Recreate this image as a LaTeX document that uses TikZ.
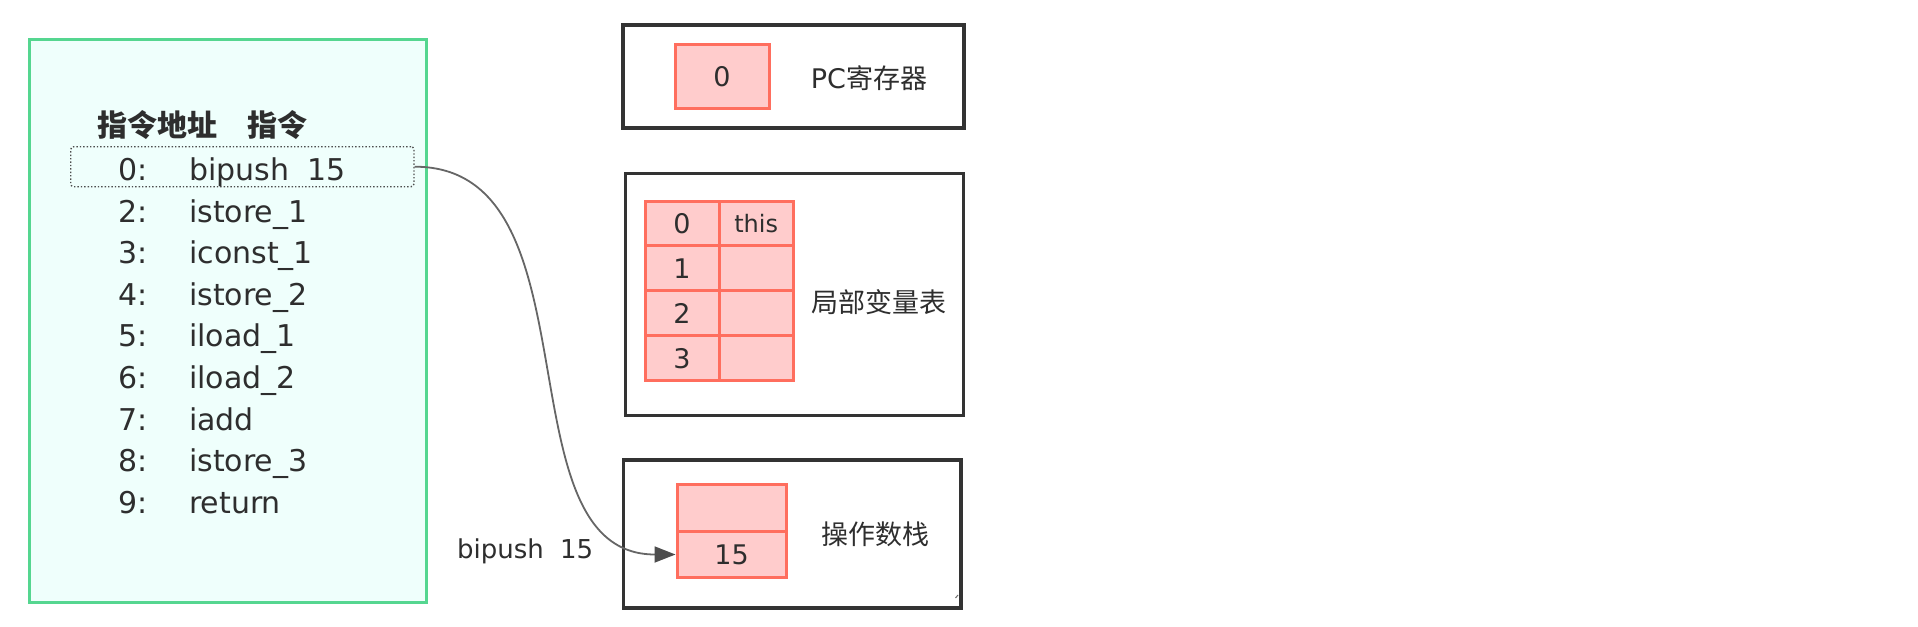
\documentclass[tikz,border=0pt]{standalone}
\usepackage{fontspec}
\setmainfont{DejaVu Sans}
\newfontfamily\cjk{Noto Sans CJK SC}
\usetikzlibrary{arrows.meta}
\definecolor{txt}{HTML}{2E2E2E}
\definecolor{greenline}{HTML}{55D690}
\definecolor{greenfill}{HTML}{EFFFFC}
\definecolor{redline}{HTML}{FF6E5E}
\definecolor{redfill}{HTML}{FFCCCC}
\definecolor{boxline}{HTML}{333333}
\definecolor{arrowc}{HTML}{666666}
\newcommand{\fsz}[1]{\fontsize{#1}{#1}\selectfont}
\begin{document}
\begin{tikzpicture}[x=1pt,y=-1pt,
  greenbox/.style={draw=greenline,fill=greenfill,line width=3pt,rectangle,inner sep=0pt},
  darkbox/.style={draw=boxline,line width=3.5pt,rectangle,inner sep=0pt},
  cellbox/.style={draw=redline,fill=redfill,line width=3pt,rectangle,inner sep=0pt,text=txt,font=\fsz{27}},
  rowsel/.style={draw=txt!85,line width=1.4pt,dash pattern=on 1.4pt off 2pt,rounded corners=3pt,rectangle,inner sep=0pt},
  listtxt/.style={text=txt,font=\fsz{30},inner sep=0pt,anchor=base west},
  headtxt/.style={text=txt,font=\fsz{30}\cjk\bfseries,inner sep=0pt,anchor=west},
  lbltxt/.style={text=txt,font=\fsz{27},inner sep=0pt},
  conn/.style={draw=arrowc,line width=1.8pt,-{Triangle[length=21pt,width=16pt,color=txt!85]}}
]
\useasboundingbox (0,0) rectangle (1918,626);
\fill[white] (0,0) rectangle (1918,626);

% left instruction panel
\node[greenbox,minimum width=397.4pt,minimum height=562.7pt] (panel) at (228,321.35) {};
\node[rowsel,minimum width=343.3pt,minimum height=40pt] (rowbox) at (242.35,166.7) {};
\node[headtxt] (hdaddr) at (97,125.5) {指令地址};
\node[headtxt] (hdins) at (247,125.5) {指令};
\foreach \a/\b [count=\i from 0] in {0/{bipush\hspace{0.62em}15},2/istore\_1,3/iconst\_1,4/istore\_2,5/iload\_1,6/iload\_2,7/iadd,8/istore\_3,9/return}{
  \pgfmathsetmacro\yy{180.7+41.55*\i}
  \node[listtxt] (addr\i) at (118,\yy) {\a:};
  \node[listtxt] (ins\i) at (189,\yy) {\b};
}

% PC register
\node[darkbox,minimum width=341pt,minimum height=103pt] (pcbox) at (793.5,76.5) {};
\node[cellbox,minimum width=94pt,minimum height=63pt] (pccell) at (722,76.5) {0};
\node[lbltxt] (pclbl) at (869,78) {PC{\cjk 寄存器}};

% local variable table
\node[darkbox,minimum width=338pt,minimum height=242.2pt] (lvbox) at (794.5,294.4) {};
\foreach \k/\t [count=\j from 0] in {0/this,1/,2/,3/}{
  \pgfmathsetmacro\yc{201+44.93*\j+22.465}
  \node[cellbox,minimum width=74pt,minimum height=44.93pt] (lvidx\j) at (682,\yc) {\k};
  \node[cellbox,minimum width=74.3pt,minimum height=44.93pt,font=\fsz{24}] (lvval\j) at (756.15,\yc) {\t};
}
\node[lbltxt] (lvlbl) at (879,301.7) {\cjk 局部变量表};

% operand stack
\node[darkbox,minimum width=337.7pt,minimum height=148pt] (stbox) at (792.2,534) {};
\node[cellbox,minimum width=109pt,minimum height=47.2pt] (celltop) at (731.5,508) {};
\node[cellbox,minimum width=109pt,minimum height=45.8pt] (cell15) at (731.5,554.5) {15};
\node[lbltxt] (stlbl) at (875,534) {\cjk 操作数栈};
\draw[txt!70,line width=1pt] (955.5,598) -- (958,595);

% label and connector
\node[listtxt,font=\fsz{26}] (oplbl) at (457,558.5) {bipush\hspace{0.62em}15};
\draw[conn] (rowbox.east) to[out=0,in=180,out distance=187pt,in distance=178pt] (cell15.west);
\end{tikzpicture}
\end{document}
